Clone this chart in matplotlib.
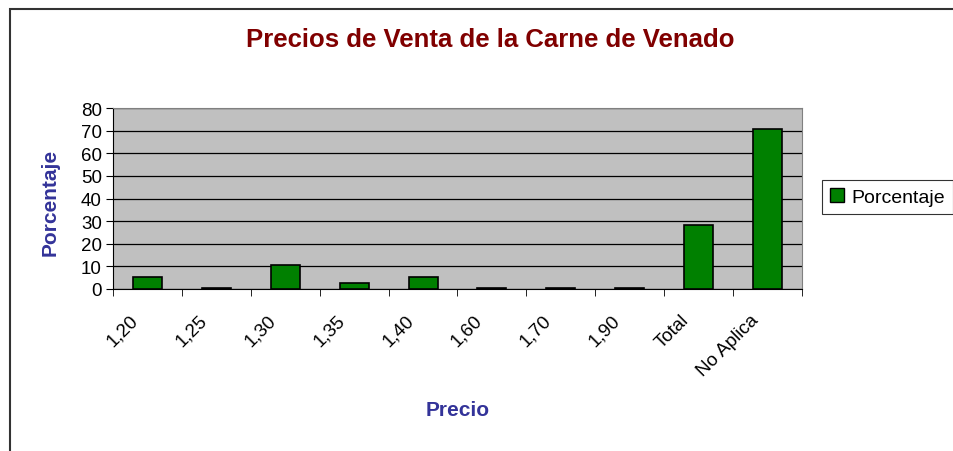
import numpy as np
import matplotlib.pyplot as plt
import matplotlib.transforms as mtransforms
from matplotlib.patches import Rectangle
from matplotlib.lines import Line2D

plt.rcParams['font.family'] = ['Liberation Sans', 'DejaVu Sans']

# data
categories = ["1,20", "1,25", "1,30", "1,35", "1,40", "1,60", "1,70", "1,90", "Total", "No Aplica"]
porcentaje = [5.1, 0.5, 10.8, 2.6, 5.1, 0.5, 0.5, 0.5, 28.3, 70.8]

fig = plt.figure(figsize=(9.54, 4.52), dpi=100)
W, H = 954, 452

# outer chart frame (runs off right and bottom)
fig.patches.append(Rectangle((10 / W, -0.1), 1.1, (H - 10) / H + 0.1, transform=fig.transFigure,
                             fill=False, edgecolor='#333333', linewidth=1.5))

ax = fig.add_axes([113 / W, 1 - 290 / H, (802 - 113) / W, (290 - 109) / H])
ax.set_facecolor('#C0C0C0')

x = np.arange(len(categories))
ax.bar(x, porcentaje, width=0.42, color='#008000', edgecolor='black', linewidth=1.2, zorder=3)

ax.set_xlim(-0.5, len(categories) - 0.5)
ax.set_ylim(0, 80)
ax.set_yticks(np.arange(0, 81, 10))
ax.yaxis.grid(True, color='black', linewidth=0.9, zorder=1)
ax.set_axisbelow(True)

ax.set_xticks(x)
ax.set_xticklabels(categories, rotation=45, ha='right', va='top', rotation_mode='anchor', fontsize=13.5)
ax.tick_params(axis='x', which='major', length=0, pad=8)
ax.set_xticks(np.arange(-0.5, len(categories)), minor=True)
ax.tick_params(axis='x', which='minor', length=5, direction='out', color='black')
ax.tick_params(axis='y', length=5, direction='out', labelsize=13.5, pad=3)

# shift rotated labels left/down like the original
offset = mtransforms.ScaledTranslation(-18 / 100, -11 / 100, fig.dpi_scale_trans)
for lab in ax.get_xticklabels():
    lab.set_transform(lab.get_transform() + offset)

for s in ['top', 'right']:
    ax.spines[s].set_color('#808080')
for s in ['left', 'bottom']:
    ax.spines[s].set_color('black')

fig.text(490 / W, 1 - 40 / H, "Precios de Venta de la Carne de Venado", ha='center', va='center',
         fontsize=18.5, fontweight='bold', color='#800000')
fig.text(50 / W, 1 - 202 / H, "Porcentaje", ha='center', va='center', rotation=90,
         fontsize=15, fontweight='bold', color='#333399')
fig.text(458 / W, 1 - 411 / H, "Precio", ha='center', va='center',
         fontsize=15, fontweight='bold', color='#333399')

handle = Line2D([], [], marker='s', linestyle='none', markersize=10,
                markerfacecolor='#008000', markeredgecolor='black')
leg = fig.legend([handle], ["Porcentaje"], loc='center left', bbox_to_anchor=(822 / W, 1 - 198 / H),
                 fontsize=14, frameon=True, fancybox=False, edgecolor='black',
                 handlelength=0.7, handletextpad=0.4, borderpad=0.4, borderaxespad=0)
leg.get_frame().set_linewidth(0.8)

fig.savefig("out.png", dpi=100)
